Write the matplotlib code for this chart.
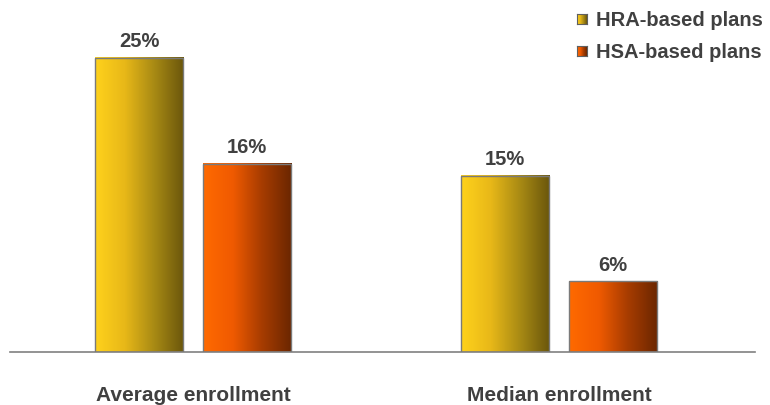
import numpy as np
import matplotlib.pyplot as plt
from matplotlib.colors import LinearSegmentedColormap

plt.rcParams['font.family'] = ['Liberation Sans', 'DejaVu Sans']

categories = ["Average enrollment", "Median enrollment"]
series_names = ["HRA-based plans", "HSA-based plans"]
hra_values = [25, 15]
hsa_values = [16, 6]

# horizontal gradients, light on the left to dark on the right
hra_cmap = LinearSegmentedColormap.from_list("hra", ["#FFD21C", "#E8B818", "#A88A14", "#6A560C"])
hsa_cmap = LinearSegmentedColormap.from_list("hsa", ["#FF6A00", "#F05A00", "#A63C00", "#6A2600"])
text_color = "#404040"

fig = plt.figure(figsize=(7.7, 4.06), dpi=100)
ax = fig.add_axes([10 / 770, 53 / 406, 745 / 770, 353 / 406])

x = np.arange(len(categories))
width = 0.243
offset = 0.1475

grad = np.linspace(0, 1, 256).reshape(1, -1)


def gradient_bars(xpos, values, cmap):
    bars = ax.bar(xpos, values, width, facecolor="none", edgecolor="#7A7A7A",
                  linewidth=1.0, zorder=3)
    for b, v in zip(bars, values):
        x0, x1 = b.get_x(), b.get_x() + b.get_width()
        ax.imshow(grad, cmap=cmap, extent=(x0, x1, 0, b.get_height()),
                  aspect="auto", zorder=2, interpolation="bilinear")
        ax.text(b.get_x() + b.get_width() / 2, v + 0.65, f"{v}%", ha="center",
                va="bottom", fontsize=14.5, fontweight="bold", color=text_color)
    return bars


gradient_bars(x - offset, hra_values, hra_cmap)
gradient_bars(x + offset, hsa_values, hsa_cmap)
ax.set_xlim(-0.5, 1.5355)
ax.set_ylim(0, 30.0)

for s in ["top", "right", "left"]:
    ax.spines[s].set_visible(False)
ax.spines["bottom"].set_color("#808080")
ax.spines["bottom"].set_linewidth(1.2)
ax.set_yticks([])
ax.set_xticks(x)
ax.set_xticklabels(categories, fontsize=15, fontweight="bold", color=text_color)
ax.tick_params(axis="x", length=0, pad=24)

# legend drawn by hand so the swatches keep the gradient
for i, (name, cmap) in enumerate(zip(series_names, [hra_cmap, hsa_cmap])):
    top = 15 + i * 32
    sw = fig.add_axes([577 / 770, 1 - (top + 10) / 406, 10 / 770, 10 / 406])
    sw.imshow(grad, cmap=cmap, aspect="auto")
    sw.set_xticks([])
    sw.set_yticks([])
    for sp in sw.spines.values():
        sp.set_color("#606060")
        sp.set_linewidth(0.8)
    fig.text(596 / 770, 1 - (top + 6) / 406, name, ha="left", va="center",
             fontsize=14.5, fontweight="bold", color=text_color)

fig.savefig("out.png", dpi=100)
